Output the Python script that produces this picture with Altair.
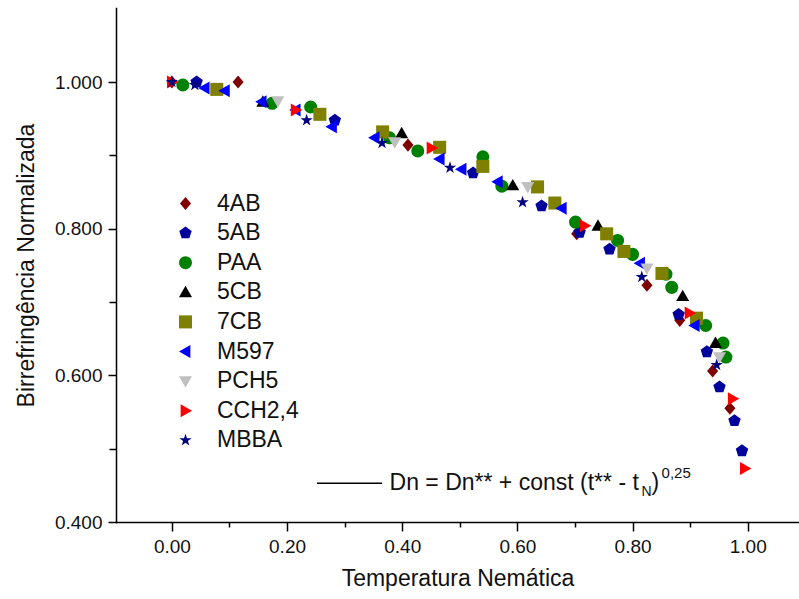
import altair as alt
import pandas as pd

# ---------------- data ----------------
series_names = ["4AB", "5AB", "PAA", "5CB", "7CB", "M597", "PCH5", "CCH2,4", "MBBA"]
series_colors = ["#800000", "#00009C", "#008000", "#000000", "#808000",
                 "#0000FF", "#C0C0C0", "#FF0000", "#000080"]
DIAMOND = "M0,-1L0.85,0L0,1L-0.85,0Z"
PENTAGON = "M0,-1L0.951,-0.309L0.588,0.809L-0.588,0.809L-0.951,-0.309Z"
TRI_UP = "M0,-1L1,0.75L-1,0.75Z"
TRI_DOWN = "M0,1L1,-0.75L-1,-0.75Z"
TRI_LEFT = "M-1,0L0.75,-1L0.75,1Z"
TRI_RIGHT = "M1,0L-0.75,-1L-0.75,1Z"
STAR = ("M0,-1L0.2245,-0.309L0.951,-0.309L0.363,0.118L0.588,0.809L0,0.382"
        "L-0.588,0.809L-0.363,0.118L-0.951,-0.309L-0.2245,-0.309Z")
series_shapes = [DIAMOND, PENTAGON, "circle", TRI_UP, "square",
                 TRI_LEFT, TRI_DOWN, TRI_RIGHT, STAR]
series_sizes = [170, 170, 120, 150, 110, 150, 150, 150, 190]

x_4AB = [0.000, 0.115, 0.410, 0.703, 0.825, 0.882, 0.939, 0.969]
y_4AB = [1.000, 1.000, 0.914, 0.793, 0.723, 0.675, 0.606, 0.555]

x_5AB = [0.043, 0.283, 0.523, 0.642, 0.708, 0.760, 0.880, 0.929, 0.951, 0.977, 0.990]
y_5AB = [1.000, 0.948, 0.876, 0.831, 0.795, 0.772, 0.683, 0.632, 0.584, 0.538, 0.497]

x_PAA = [0.019, 0.174, 0.241, 0.378, 0.427, 0.540, 0.573, 0.701, 0.774, 0.800,
         0.858, 0.868, 0.927, 0.957, 0.962]
y_PAA = [0.996, 0.971, 0.966, 0.924, 0.906, 0.898, 0.858, 0.809, 0.784, 0.765,
         0.738, 0.720, 0.668, 0.644, 0.625]

x_5CB = [0.158, 0.399, 0.592, 0.740, 0.887, 0.944]
y_5CB = [0.973, 0.930, 0.859, 0.804, 0.708, 0.644]

x_7CB = [0.078, 0.257, 0.366, 0.465, 0.540, 0.635, 0.665, 0.755, 0.785, 0.851, 0.911]
y_7CB = [0.990, 0.956, 0.932, 0.911, 0.885, 0.857, 0.835, 0.793, 0.769, 0.739, 0.678]

x_M597 = [0.057, 0.092, 0.156, 0.215, 0.278, 0.352, 0.465, 0.503, 0.566, 0.677, 0.813, 0.908]
y_M597 = [0.992, 0.988, 0.973, 0.962, 0.939, 0.924, 0.895, 0.881, 0.864, 0.828, 0.753, 0.668]

x_PCH5 = [0.184, 0.387, 0.618, 0.825, 0.951]
y_PCH5 = [0.974, 0.918, 0.857, 0.746, 0.625]

x_CCH = [0.000, 0.215, 0.451, 0.717, 0.899, 0.974, 0.995]
y_CCH = [1.000, 0.962, 0.910, 0.804, 0.685, 0.568, 0.473]

x_MBBA = [0.000, 0.040, 0.234, 0.365, 0.483, 0.609, 0.816, 0.946]
y_MBBA = [1.000, 0.996, 0.948, 0.917, 0.883, 0.836, 0.734, 0.614]

all_x = [x_4AB, x_5AB, x_PAA, x_5CB, x_7CB, x_M597, x_PCH5, x_CCH, x_MBBA]
all_y = [y_4AB, y_5AB, y_PAA, y_5CB, y_7CB, y_M597, y_PCH5, y_CCH, y_MBBA]

x_ticks = [0.0, 0.1, 0.2, 0.3, 0.4, 0.5, 0.6, 0.7, 0.8, 0.9, 1.0]
y_ticks = [0.4, 0.5, 0.6, 0.7, 0.8, 0.9, 1.0]
x_domain = [-0.097, 1.089]
y_domain = [0.4, 1.101]

formula_main = "Dn = Dn** + const (t** - t"
formula_sub = "N"
formula_close = ")"
formula_sup = "0,25"
# annotation anchor in data units
ann_x_line = [0.252, 0.365]
ann_y = 0.453
ann_x_text = 0.378

rows = []
for name, xs, ys in zip(series_names, all_x, all_y):
    for xv, yv in zip(xs, ys):
        rows.append({"serie": name, "t": xv, "dn": yv})
df = pd.DataFrame(rows)

FONT = "Liberation Sans"

x_scale = alt.Scale(domain=x_domain, nice=False, zero=False)
y_scale = alt.Scale(domain=y_domain, nice=False, zero=False)

major_test = "abs(round(datum.value*10) % 2) < 0.5"

x_axis = alt.Axis(
    values=x_ticks, title="Temperatura Nemática",
    labelExpr=f"{major_test} ? format(datum.value, '.2f') : ''",
    labelOverlap=False, grid=False,
    tickSize={"condition": {"test": major_test, "value": 9}, "value": 5},
    tickColor="black", tickWidth=1.5, domainColor="black", domainWidth=1.5,
    labelFont=FONT, labelFontSize=19, labelColor="#111", labelPadding=6,
    titleFont=FONT, titleFontSize=23, titleFontWeight="normal", titleColor="#111",
    titlePadding=11,
)
y_axis = alt.Axis(
    values=y_ticks, title="Birrefringência Normalizada",
    labelExpr=f"{major_test} ? format(datum.value, '.3f') : ''",
    labelOverlap=False, grid=False,
    tickSize={"condition": {"test": major_test, "value": 8}, "value": 7},
    tickColor="black", tickWidth=1.5, domainColor="black", domainWidth=1.5,
    labelFont=FONT, labelFontSize=19, labelColor="#111", labelPadding=6,
    titleFont=FONT, titleFontSize=23, titleFontWeight="normal", titleColor="#111",
    titlePadding=16,
)

legend_kw = dict(orient="none", legendX=58, legendY=184, title=None,
                 labelFont=FONT, labelFontSize=23, labelColor="#111",
                 symbolSize=125, rowPadding=5.6, labelOffset=20,
                 symbolStrokeWidth=0, symbolOpacity=1)

points = alt.Chart(df).mark_point(filled=True, opacity=1, strokeWidth=0).encode(
    x=alt.X("t:Q", scale=x_scale, axis=x_axis),
    y=alt.Y("dn:Q", scale=y_scale, axis=y_axis),
    color=alt.Color("serie:N", scale=alt.Scale(domain=series_names, range=series_colors),
                    legend=alt.Legend(**legend_kw)),
    shape=alt.Shape("serie:N", scale=alt.Scale(domain=series_names, range=series_shapes),
                    legend=alt.Legend(**legend_kw)),
    size=alt.Size("serie:N", scale=alt.Scale(domain=series_names, range=series_sizes),
                  legend=None),
)

ann_df = pd.DataFrame({"x1": [ann_x_line[0]], "x2": [ann_x_line[1]], "y": [ann_y],
                       "xt": [ann_x_text]})

ann_line = alt.Chart(ann_df).mark_rule(color="black", strokeWidth=1.5).encode(
    x=alt.X("x1:Q", scale=x_scale), x2="x2:Q", y=alt.Y("y:Q", scale=y_scale))

def txt(s, size, dx, dy):
    return alt.Chart(ann_df).mark_text(
        text=s, font=FONT, fontSize=size, align="left", baseline="middle",
        dx=dx, dy=dy, color="#111").encode(
        x=alt.X("xt:Q", scale=x_scale), y=alt.Y("y:Q", scale=y_scale))

ann = (ann_line + txt(formula_main, 23, 0, 0) + txt(formula_sub, 14, 252, 9)
       + txt(formula_close, 23, 262, 0) + txt(formula_sup, 15, 272, -10))

chart = alt.layer(points, ann).properties(
    width=683, height=514,
    autosize=alt.AutoSizeParams(type="none"),
    padding={"left": 116, "top": 8, "right": 0, "bottom": 77},
).configure_view(stroke=None).configure_axis(domainCap="square")

chart.save("out.html", embed_options={"renderer": "svg", "actions": False})
